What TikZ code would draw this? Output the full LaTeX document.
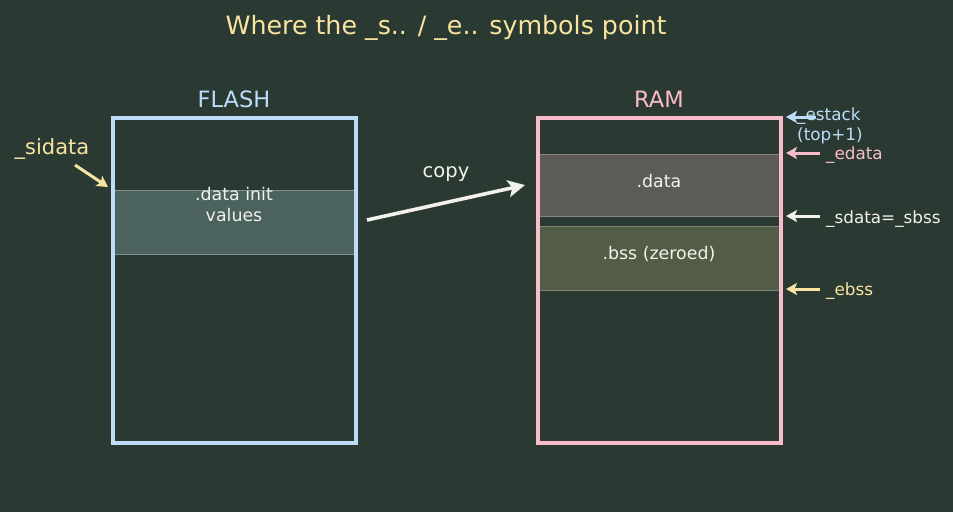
\documentclass[tikz,border=0pt]{standalone}
\usepackage{fontspec}
\setmainfont{DejaVu Sans}
\usetikzlibrary{arrows.meta}
\definecolor{bg}{HTML}{2A3A32}
\definecolor{ylw}{HTML}{F8E4A0}
\definecolor{lblue}{HTML}{BCDCF8}
\definecolor{pink}{HTML}{F8BCCA}
\definecolor{cream}{HTML}{F2F2EA}
\definecolor{flashband}{HTML}{4B625F}
\definecolor{databand}{HTML}{5C5B58}
\definecolor{bssband}{HTML}{535D46}
\tikzset{
  mem/.style={line width=3.3pt},
  band/.style={line width=0.8pt},
  ptr/.style={line width=3pt,-{Stealth[length=11pt,width=12pt,inset=2.5pt]}},
  lbl/.style={font=\fontsize{16.8}{20}\selectfont, anchor=west, inner sep=0pt},
}
\begin{document}
\begin{tikzpicture}[x=1pt,y=-1pt]
\fill[bg] (0,0) rectangle (953,512);
\useasboundingbox (0,0) rectangle (953,512);
% title
\node[text=ylw, font=\fontsize{25.3}{30}\selectfont] (title) at (446,28) {Where the \_s.. / \_e.. symbols point};
% FLASH
\node[text=lblue, font=\fontsize{22.5}{26}\selectfont] (flashlbl) at (234,99) {FLASH};
\fill[flashband] (113,190) rectangle (356,254);
\draw[band, draw=flashband!70!white] (113,190) -- (356,190) (113,254) -- (356,254);
\node[text=cream, font=\fontsize{17.4}{21}\selectfont, align=center, anchor=north, inner sep=0pt] (initvals) at (234,187) {.data init\\values};
\draw[mem, draw=lblue] (113,118) rectangle (356,443);
\coordinate (flashin) at (108,187);
\node[text=ylw, font=\fontsize{21}{25}\selectfont] (sidata) at (52,149) {\_sidata};
\draw[ptr, draw=ylw] (75,165) -- (flashin);
% RAM
\node[text=pink, font=\fontsize{22.5}{26}\selectfont] (ramlbl) at (659,99) {RAM};
\fill[databand] (538,154) rectangle (781,216);
\draw[band, draw=databand!75!white] (538,154) -- (781,154) (538,216) -- (781,216);
\node[text=cream, font=\fontsize{17.4}{21}\selectfont] (data) at (659,181) {.data};
\fill[bssband] (538,226) rectangle (781,290);
\draw[band, draw=bssband!75!white] (538,226) -- (781,226) (538,290) -- (781,290);
\node[text=cream, font=\fontsize{17.4}{21}\selectfont] (bss) at (659,254) {.bss (zeroed)};
\draw[mem, draw=pink] (538,118) rectangle (781,443);
% copy
\node[text=cream, font=\fontsize{19.5}{23}\selectfont] (copy) at (446,174) {copy};
\coordinate (cpA) at (367,220);
\coordinate (cpB) at (525,185);
\draw[line width=3.6pt, draw=cream, -{Stealth[length=17pt,width=17pt,inset=4pt]}] (cpA) -- (cpB);
% right pointers
\coordinate (es0) at (816,117); \coordinate (es1) at (786,117);
\coordinate (ed0) at (820,153); \coordinate (ed1) at (786,153);
\coordinate (sd0) at (820,216); \coordinate (sd1) at (786,216);
\coordinate (eb0) at (820,289); \coordinate (eb1) at (786,289);
\draw[ptr, draw=lblue] (es0) -- (es1);
\node[lbl, text=lblue, align=left, anchor=north west, font=\fontsize{16.8}{20}\selectfont] (estack) at (797,108) {\_estack\\(top+1)};
\draw[ptr, draw=pink] (ed0) -- (ed1);
\node[lbl, text=pink] (edata) at (826,155) {\_edata};
\draw[ptr, draw=cream] (sd0) -- (sd1);
\node[lbl, text=cream] (sdata) at (826,219) {\_sdata=\_sbss};
\draw[ptr, draw=ylw] (eb0) -- (eb1);
\node[lbl, text=ylw] (ebss) at (826,291) {\_ebss};
\end{tikzpicture}
\end{document}
